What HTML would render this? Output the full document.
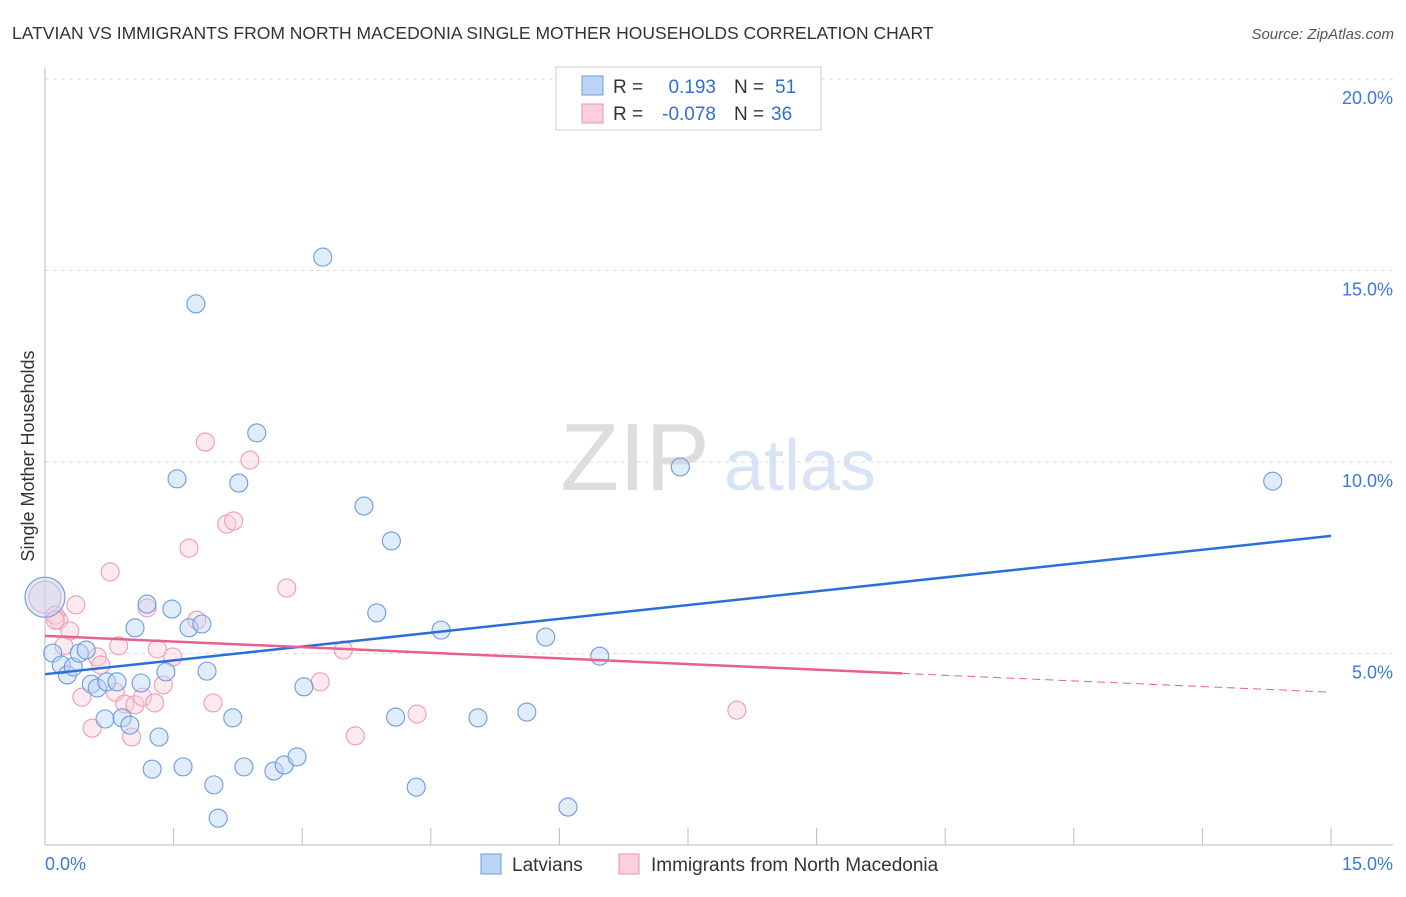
<!DOCTYPE html>
<html><head><meta charset="utf-8"><style>
body{margin:0;background:#fff;font-family:"Liberation Sans",sans-serif}
svg text{font-family:"Liberation Sans",sans-serif}
</style></head><body>
<svg id="c" width="1406" height="892">
<text x="12" y="39" font-size="17.5" fill="#333">LATVIAN VS IMMIGRANTS FROM NORTH MACEDONIA SINGLE MOTHER HOUSEHOLDS CORRELATION CHART</text>
<text x="1394" y="39" font-size="15" fill="#555" font-style="italic" text-anchor="end">Source: ZipAtlas.com</text>
<text x="635" y="490" font-size="96" fill="#ddd" font-family="Liberation Serif" text-anchor="middle">ZIP</text>
<text x="800" y="490" font-size="72" fill="#d6e4f5" text-anchor="middle">atlas</text>
<text transform="translate(34,456) rotate(-90)" font-size="18" fill="#333" text-anchor="middle">Single Mother Households</text>
<g id="grid"></g><g id="pts"></g><g id="lines"></g>
<g>
<rect x="556" y="67" width="265" height="63" fill="#fff" stroke="#ccc"/>
<rect x="582" y="76" width="21" height="19" fill="#bcd4f5" stroke="#6a9be0"/>
<rect x="582" y="104" width="21" height="19" fill="#fbd0dc" stroke="#ec8fab"/>
<text x="613" y="93" font-size="19" fill="#333">R =</text><text x="716" y="93" font-size="19" fill="#2f6fd0" text-anchor="end">0.193</text>
<text x="734" y="93" font-size="19" fill="#333">N =</text><text x="775" y="93" font-size="19" fill="#2f6fd0">51</text>
<text x="613" y="120" font-size="19" fill="#333">R =</text><text x="716" y="120" font-size="19" fill="#2f6fd0" text-anchor="end">-0.078</text>
<text x="734" y="120" font-size="19" fill="#333">N =</text><text x="771" y="120" font-size="19" fill="#2f6fd0">36</text>
</g>
<g>
<rect x="481" y="854" width="20" height="20" fill="#bcd4f5" stroke="#6a9be0"/>
<text x="512" y="871" font-size="19" fill="#333">Latvians</text>
<rect x="619" y="854" width="20" height="20" fill="#fbd0dc" stroke="#ec8fab"/>
<text x="651" y="871" font-size="19" fill="#333">Immigrants from North Macedonia</text>
</g>
</svg>
<script>
const blueX=[0,0.09,0.19,0.26,0.33,0.40,0.48,0.54,0.61,0.72,0.84,0.70,0.90,0.99,1.05,1.12,1.19,1.25,1.33,1.41,1.48,1.54,1.61,1.68,1.76,1.83,1.89,1.97,2.02,2.19,2.26,2.32,2.47,2.67,2.79,2.94,3.02,3.24,3.72,3.87,4.04,4.09,4.33,4.62,5.05,5.62,5.84,6.10,6.47,7.41,14.32];
const blueY=[6.47,5.01,4.70,4.44,4.65,5.01,5.09,4.20,4.10,4.26,4.26,3.29,3.32,3.13,5.67,4.23,6.29,1.98,2.82,4.52,6.16,9.56,2.04,5.67,14.13,5.77,4.54,1.57,0.70,3.32,9.45,2.04,10.76,1.93,2.09,2.30,4.13,15.35,8.85,6.06,7.94,3.34,1.51,5.61,3.32,3.47,5.43,0.99,4.93,9.87,9.50];
const pinkX=[0,0.36,0.16,0.29,0.22,0.43,0.55,0.61,0.65,0.76,0.82,0.86,0.93,1.01,1.05,1.14,1.19,1.28,1.31,1.38,1.49,1.68,1.77,1.87,1.96,2.12,2.20,2.39,2.82,3.21,3.48,3.62,4.34,8.07,0.12,0.12];
const pinkY=[6.47,6.27,5.87,5.59,5.20,3.86,3.05,4.91,4.70,7.13,3.99,5.20,3.68,2.82,3.66,3.86,6.19,3.71,5.12,4.18,4.91,7.75,5.87,10.52,3.71,8.38,8.46,10.05,6.71,4.26,5.09,2.85,3.42,3.52,6.0,5.87];
const blueTrend=[4.46,8.07];
const pinkTrend=[5.46,3.99];
const yTicks=[5,10,15,20];
const xTicks=[0,1.5,3,4.5,6,7.5,9,10.5,12,13.5,15];
const NS='http://www.w3.org/2000/svg';
const sx=v=>45+v*(1331-45)/15, sy=v=>845-v*(845-79)/20;
function mk(p,t,a){const e=document.createElementNS(NS,t);for(const k in a)e.setAttribute(k,a[k]);document.getElementById(p).appendChild(e);return e;}
yTicks.forEach(t=>{const l=mk('grid','line',{x1:45,x2:1393,y1:sy(t),y2:sy(t),stroke:'#ddd','stroke-dasharray':'4,4'});


const tx=mk('grid','text',{x:1393,y:sy(t)+25,'font-size':18,fill:'#3b78d8','text-anchor':'end'});tx.textContent=t.toFixed(1)+'%';

});
mk('grid','line',{x1:45,x2:45,y1:68,y2:845,stroke:'#bbb'});
mk('grid','line',{x1:45,x2:1393,y1:845,y2:845,stroke:'#bbb'});
xTicks.forEach(t=>{const l=mk('grid','line',{x1:sx(t),x2:sx(t),y1:828,y2:845,stroke:'#bbb'});

});
[[0,45,'start'],[15,1393,'end']].forEach(([v,x,a])=>{const tx=mk('grid','text',{x:x,y:870,'font-size':18,fill:'#3b78d8','text-anchor':a});tx.textContent=v.toFixed(1)+'%';

});
function dots(X,Y,fill,stroke,name,big){X.forEach((x,i)=>{const c=mk('pts','circle',{cx:sx(x),cy:sy(Y[i]),r:i===0?big:9,fill:fill,'fill-opacity':0.45,stroke:stroke,'stroke-width':1.1});

});}
dots(pinkX,pinkY,'#fbd0dc','#ef9ab4','macedonia-point',16);
dots(blueX,blueY,'#bcd4f5','#6a9be0','latvian-point',20);
const bl=mk('lines','line',{x1:sx(0),y1:sy(blueTrend[0]),x2:sx(15),y2:sy(blueTrend[1]),stroke:'#2a6fd6','stroke-width':2.5});


const pm=pinkTrend[0]+(pinkTrend[1]-pinkTrend[0])*10/15;
const pl=mk('lines','line',{x1:sx(0),y1:sy(pinkTrend[0]),x2:sx(10),y2:sy(pm),stroke:'#e8608c','stroke-width':2.5});


const pd=mk('lines','line',{x1:sx(10),y1:sy(pm),x2:sx(15),y2:sy(pinkTrend[1]),stroke:'#e8608c','stroke-width':1,'stroke-dasharray':'8,5'});


</script>
</body></html>
